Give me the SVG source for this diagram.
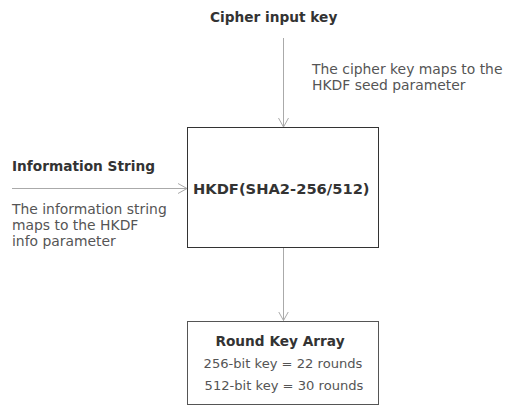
<svg xmlns="http://www.w3.org/2000/svg" width="520" height="416" viewBox="0 0 520 416">
<defs>
<marker id="arr" markerWidth="10" markerHeight="16" refX="9" refY="6" orient="auto" markerUnits="userSpaceOnUse" viewBox="0 0 10 12">
<path d="M0,1 L9,6 L0,11" fill="none" stroke="#aaaaaa" stroke-width="1"/>
</marker>
</defs>
<style>
text{font-family:"DejaVu Sans",Verdana,sans-serif;}
.title{font-weight:bold;font-size:13.7px;fill:#333333;}
.note{font-size:13.9px;fill:#555555;}
.bnote{font-size:13.1px;fill:#555555;}
.box{fill:#ffffff;stroke:#333333;stroke-width:1;}
.conn{stroke:#aaaaaa;stroke-width:1;fill:none;}
</style>
<rect width="520" height="416" fill="#ffffff"/>
<g id="connectors">
<line class="conn" x1="283.5" y1="38" x2="283.5" y2="127" marker-end="url(#arr)"/>
<line class="conn" x1="12" y1="188.5" x2="187" y2="188.5" marker-end="url(#arr)"/>
<line class="conn" x1="283.5" y1="248" x2="283.5" y2="320.5" marker-end="url(#arr)"/>
</g>
<g id="cipher-input">
<text class="title" x="210" y="22">Cipher input key</text>
<text class="note" x="312" y="74">The cipher key maps to the</text>
<text class="note" x="312" y="90">HKDF seed parameter</text>
</g>
<g id="info-string">
<text class="title" x="12" y="171">Information String</text>
<text class="note" x="12" y="214">The information string</text>
<text class="note" x="12" y="230">maps to the HKDF</text>
<text class="note" x="12" y="246">info parameter</text>
</g>
<g id="hkdf">
<rect class="box" x="187.5" y="127.5" width="191" height="120"/>
<text class="title" x="193" y="194" style="font-size:14.7px">HKDF(SHA2-256/512)</text>
</g>
<g id="round-key-array">
<rect class="box" x="187.5" y="321.5" width="191" height="83" style="stroke:#555555"/>
<text class="title" x="280" y="346" text-anchor="middle">Round Key Array</text>
<text class="bnote" x="283" y="368" text-anchor="middle">256-bit key = 22 rounds</text>
<text class="bnote" x="284" y="390" text-anchor="middle">512-bit key = 30 rounds</text>
</g>
</svg>
